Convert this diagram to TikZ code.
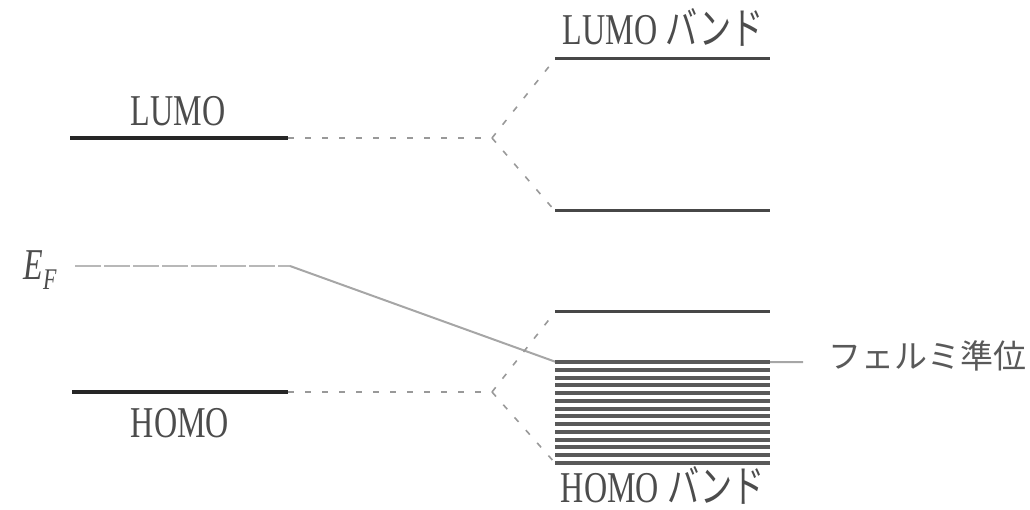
\documentclass[tikz,border=0pt]{standalone}
\usepackage{fontspec}
\setmainfont{Liberation Serif}
\newfontfamily\jpfont{Noto Sans CJK JP}
\begin{document}
\begin{tikzpicture}[x=1pt,y=-1pt,
  level/.style={line width=3.5pt, draw=black!85},
  bandline/.style={line width=3pt, draw=black!72},
  denseline/.style={line width=4pt, draw=black!65},
  link/.style={line width=1.6pt, draw=black!40, dash pattern=on 6pt off 11pt},
  fermidash/.style={line width=2pt, draw=black!28, dash pattern=on 26pt off 3pt},
  fermi/.style={line width=2pt, draw=black!35},
  lbl/.style={font=\fontsize{44}{48}\selectfont, text=black!70, xscale=0.73, inner sep=0pt, anchor=base},
  jlbl/.style={font=\fontsize{33}{36}\selectfont\jpfont, text=black!65, inner sep=0pt}
]
\useasboundingbox (0,0) rectangle (1030,510);

% left molecular levels
\coordinate (LUl) at (70,138);  \coordinate (LUr) at (288,138);
\coordinate (HOl) at (72,392);  \coordinate (HOr) at (288,392);
\coordinate (LUfork) at (492,138);
\coordinate (HOfork) at (492,392);
\draw[level] (LUl) -- (LUr);
\draw[level] (HOl) -- (HOr);

% bands
\coordinate (LBtl) at (555,59);  \coordinate (LBtr) at (770,59);
\coordinate (LBbl) at (555,211); \coordinate (LBbr) at (770,211);
\coordinate (HBtl) at (555,312); \coordinate (HBtr) at (770,312);
\coordinate (HBbl) at (555,463);

% Fermi level line
\coordinate (EFl) at (75,266);
\coordinate (EFk) at (290,266);
\coordinate (EFb) at (556,362);
\coordinate (EFr) at (803,362);
\draw[fermidash] (EFl) -- (EFk);
\draw[fermi] (EFk) -- (EFb) -- (EFr);

\draw[bandline] (LBtl) -- (LBtr);
\draw[bandline] (LBbl) -- (LBbr);
\draw[bandline] (HBtl) -- (HBtr);
\foreach \i in {0,...,13}{
  \draw[denseline] (555,{362+\i*7.77}) -- (770,{362+\i*7.77});
}

% dashed correlation lines
\draw[link] (LUr) -- (LUfork);
\draw[link] (LUfork) -- (LBtl);
\draw[link] (LUfork) -- (LBbl);
\draw[link] (HOr) -- (HOfork);
\draw[link] (HOfork) -- (HBtl);
\draw[link] (HOfork) -- (HBbl);

% labels
\node[lbl] (tLU) at (178,126) {LUMO};
\node[lbl] (tHO) at (180,437) {HOMO};
\node[lbl] (tLB) at (663,45) {LUMO {\jpfont バンド}};
\node[lbl] (tHB) at (663,502) {HOMO {\jpfont バンド}};
\node[lbl] (tEF) at (40,280) {\itshape E\raisebox{-0.22em}{\fontsize{30}{32}\selectfont F}};
\node[jlbl] (tFermi) at (927,356) {フェルミ準位};
\end{tikzpicture}
\end{document}
